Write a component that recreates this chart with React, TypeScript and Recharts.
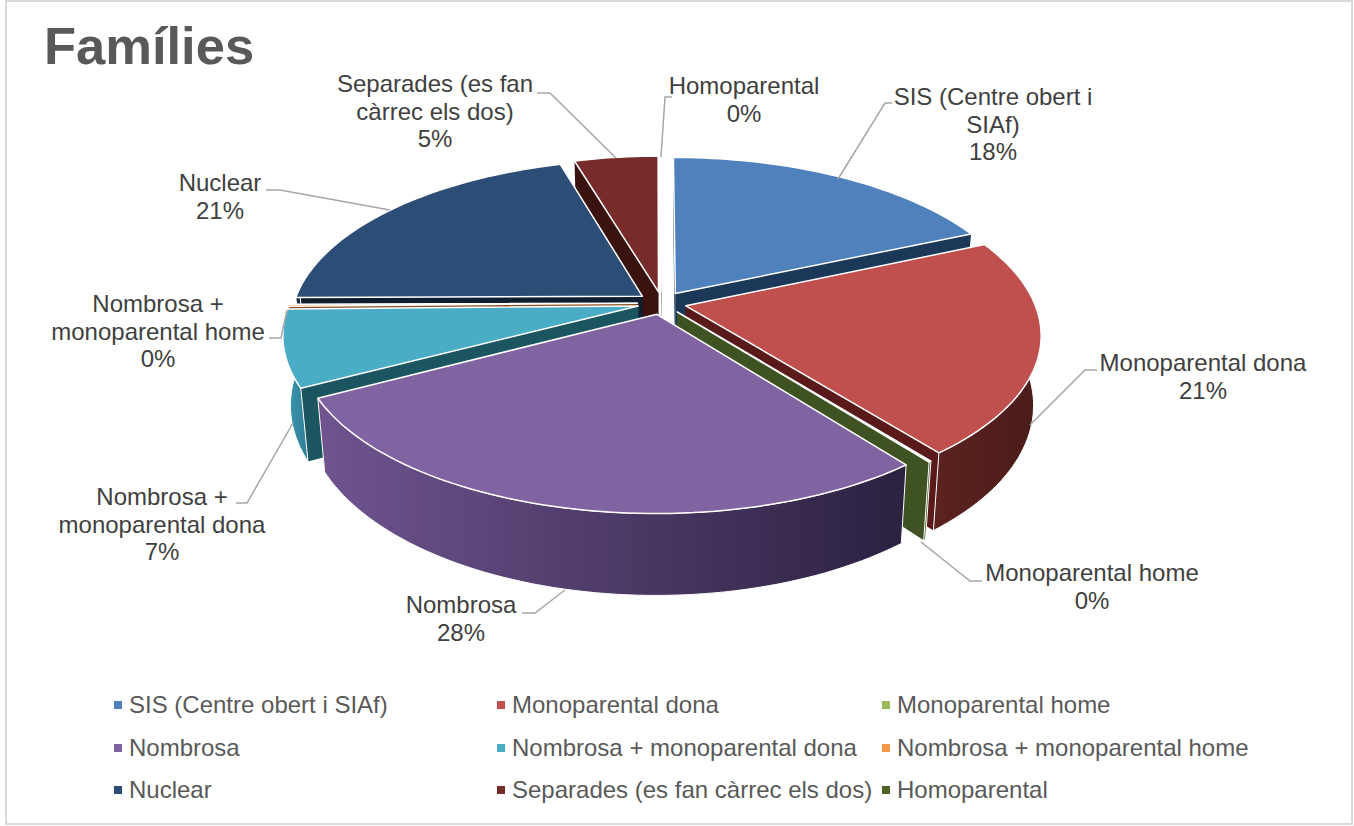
import React from "react";
import { PieChart, Pie, Legend } from "recharts";

const TITLE = "Famílies";
const CATEGORIES = [
  "SIS (Centre obert i SIAf)",
  "Monoparental dona",
  "Monoparental home",
  "Nombrosa",
  "Nombrosa + monoparental dona",
  "Nombrosa + monoparental home",
  "Nuclear",
  "Separades (es fan càrrec els dos)",
  "Homoparental",
];
const VALUES = [18.5, 21.0, 0.1, 27.9, 7.45, 0.2, 20.6, 4.55, 0.05];
const FILLS = ["#4F81BD", "#C0504D", "#9BBB59", "#8064A2", "#4BACC6", "#F79646", "#2C4D75", "#772C2A", "#5F7530"];
const RADIAL_WALLS = ["#1B3858", "#5A1A1A", "#3F5322", "#3A2C52", "#1A5560", "#8A4F20", "#0F1E30", "#3A1210", "#2E3A15"];
const ARC_WALL_LEFT = ["#25466C", "#5C221F", "#4F6228", "#6F5490", "#3F9AB4", "#C07030", "#1E3654", "#4A1715", "#3F5322"];
const ARC_WALL_RIGHT = ["#1B3858", "#4A1C1A", "#3F5322", "#2B2140", "#2F7F96", "#8A4F20", "#0F1E30", "#3A1210", "#2E3A15"];
const LEGEND_COLORS = ["#4F81BD", "#C0504D", "#9BBB59", "#8064A2", "#4BACC6", "#F79646", "#2C4D75", "#772C2A", "#4F6228"];

// Back-to-front painting order of the exploded slices.
const DRAW_ORDER = [7, 8, 6, 0, 5, 4, 1, 2, 3];

// Label layout: text lines, centre x, first baseline.
const LABEL_LINES = [
  ["SIS (Centre obert i", "SIAf)"],
  ["Monoparental dona"],
  ["Monoparental home"],
  ["Nombrosa"],
  ["Nombrosa +", "monoparental dona"],
  ["Nombrosa +", "monoparental home"],
  ["Nuclear"],
  ["Separades (es fan", "càrrec els dos)"],
  ["Homoparental"],
];
const LABEL_X = [993, 1203, 1092, 461, 162, 158, 220, 435, 744];
const LABEL_Y = [105, 371, 581, 613, 505, 312, 191, 92, 94];
const LEADERS = [
  "838,179 885,103 892,103",
  "1030,425 1085,370 1097,370",
  "921,542 970,581 982,581",
  "565,590 535,613 522,613",
  "293,423 247,503 236,503",
  "287,310 281,338 269,338",
  "390,210 280,190 266,190",
  "616,158 550,93 537,93",
  "661,157 665,97 672,97",
];

const LEGEND_COLS = [114, 497, 882];
const LEGEND_ROWS = [705, 748, 790];

const TABLE = CATEGORIES.map((name, i) => ({ name, value: VALUES[i], fill: FILLS[i] }));

const FONT = "'Liberation Sans', Arial, sans-serif";
const EXPLODE = 0.0703;
const PERSPECTIVE = 0.167;
const Y_RATIO = 0.4642;
const DEPTH_RATIO = 0.193;
const DEPTH_TAPER = 0.02;
const FRONT_LIMIT = -0.05;

const rad = (d: number) => (d * Math.PI) / 180;

function SliceShape(props: any, idx: number) {
  const name = props.name ?? props.payload?.name;
  if (CATEGORIES.indexOf(name) !== idx) return <g />;
  const { cx, cy, outerRadius: R, startAngle, endAngle } = props;
  const mid = (startAngle + endAngle) / 2;
  const ou = EXPLODE * Math.cos(rad(mid));
  const ov = -EXPLODE * Math.sin(rad(mid));
  const P = (u: number, v: number, z: number) => {
    const uu = u + ou;
    const vv = v + ov;
    const w = 1 - PERSPECTIVE * vv;
    const x = cx + ((R * uu) / w) * (1 - DEPTH_TAPER * z);
    const y = cy + (R * Y_RATIO * vv) / w + (R * DEPTH_RATIO * z) / w;
    return `${x.toFixed(1)},${y.toFixed(1)}`;
  };
  const steps = Math.max(1, Math.ceil(Math.abs(endAngle - startAngle) / 1.5));
  const rim: [number, number][] = [];
  for (let i = 0; i <= steps; i++) {
    const a = startAngle + ((endAngle - startAngle) * i) / steps;
    rim.push([Math.cos(rad(a)), -Math.sin(rad(a))]);
  }
  const first = rim[0];
  const last = rim[rim.length - 1];
  const top = `M${P(0, 0, 0)} L${rim.map((p) => P(p[0], p[1], 0)).join(" L")} Z`;
  const front = rim.filter((p) => p[1] >= FRONT_LIMIT);
  const arcWall =
    front.length > 1
      ? `M${front.map((p) => P(p[0], p[1], 0)).join(" L")} L` +
        front.slice().reverse().map((p) => P(p[0], p[1], 1)).join(" L") + " Z"
      : null;
  const wall = (p: [number, number]) =>
    `M${P(0, 0, 0)} L${P(p[0], p[1], 0)} L${P(p[0], p[1], 1)} L${P(0, 0, 1)} Z`;
  const gid = `arc-wall-${idx}`;
  return (
    <g>
      <defs>
        <linearGradient id={gid} x1="0" y1="0" x2="1" y2="0">
          <stop offset="0" stopColor={ARC_WALL_LEFT[idx]} />
          <stop offset="1" stopColor={ARC_WALL_RIGHT[idx]} />
        </linearGradient>
      </defs>
      <path d={wall(first)} fill={RADIAL_WALLS[idx]} stroke="none" />
      <path d={wall(last)} fill={RADIAL_WALLS[idx]} stroke="none" />
      {arcWall && <path d={arcWall} fill={`url(#${gid})`} stroke="#fff" strokeWidth={1} strokeLinejoin="round" />}
      <path d={top} fill={FILLS[idx]} stroke="#fff" strokeWidth={1.5} strokeLinejoin="round" />
    </g>
  );
}

function renderLabel(props: any) {
  const idx = CATEGORIES.indexOf(props.name ?? props.payload?.name);
  if (idx < 0) return <g />;
  const lines = [...LABEL_LINES[idx], `${Math.round((props.percent ?? 0) * 100)}%`];
  return (
    <g key={idx}>
      <polyline points={LEADERS[idx]} fill="none" stroke="#A6A6A6" strokeWidth={1.5} />
      <text x={LABEL_X[idx]} y={LABEL_Y[idx]} textAnchor="middle" fontFamily={FONT} fontSize={24} fill="#404040">
        {lines.map((l, i) => (
          <tspan key={i} x={LABEL_X[idx]} dy={i === 0 ? 0 : 27.5}>
            {l}
          </tspan>
        ))}
      </text>
    </g>
  );
}

function renderLegend(props: any) {
  const seen = new Set<string>();
  const items = (props.payload ?? []).filter((e: any) => {
    if (seen.has(e.value) || CATEGORIES.indexOf(e.value) < 0) return false;
    seen.add(e.value);
    return true;
  });
  return (
    <div style={{ position: "relative", width: 1354, height: 826 }}>
      {items.map((e: any) => {
        const i = CATEGORIES.indexOf(e.value);
        const x = LEGEND_COLS[i % 3];
        const y = LEGEND_ROWS[Math.floor(i / 3)];
        return (
          <div key={e.value}>
            <div style={{ position: "absolute", left: x, top: y - 4, width: 8, height: 8, background: LEGEND_COLORS[i] }} />
            <div
              style={{
                position: "absolute",
                left: x + 15,
                top: y - 14,
                lineHeight: "28px",
                fontSize: 24,
                fontFamily: FONT,
                color: "#595959",
                whiteSpace: "nowrap",
              }}
            >
              {e.value}
            </div>
          </div>
        );
      })}
    </div>
  );
}

export default function App() {
  return (
    <div style={{ position: "absolute", left: 0, top: 0, width: 1354, height: 826, background: "#fff", overflow: "hidden" }}>
      <div
        style={{
          position: "absolute",
          left: 5,
          top: 0,
          width: 1344,
          height: 821,
          border: "2px solid #D9D9D9",
        }}
      />
      <div
        style={{
          position: "absolute",
          left: 44,
          top: 15,
          fontFamily: FONT,
          fontWeight: 700,
          fontSize: 52.5,
          color: "#595959",
          whiteSpace: "nowrap",
        }}
      >
        {TITLE}
      </div>
      <div style={{ position: "absolute", left: 0, top: 0 }}>
        <PieChart width={1354} height={826} margin={{ top: 0, right: 0, bottom: 0, left: 0 }}>
          {DRAW_ORDER.map((idx, k) => {
            const shape = (p: any) => SliceShape(p, idx);
            return (
              <Pie
                key={idx}
                data={TABLE}
                dataKey="value"
                nameKey="name"
                cx={662}
                cy={303}
                outerRadius={348.6}
                startAngle={90}
                endAngle={-270}
                isAnimationActive={false}
                stroke="none"
                shape={shape}
                inactiveShape={shape}
                activeShape={shape}
                label={k === DRAW_ORDER.length - 1 ? renderLabel : false}
                labelLine={false}
              />
            );
          })}
          <Legend
            content={renderLegend}
            verticalAlign="top"
            wrapperStyle={{ left: 0, top: 0, width: 1354, height: 0, margin: 0 }}
          />
        </PieChart>
      </div>
    </div>
  );
}
